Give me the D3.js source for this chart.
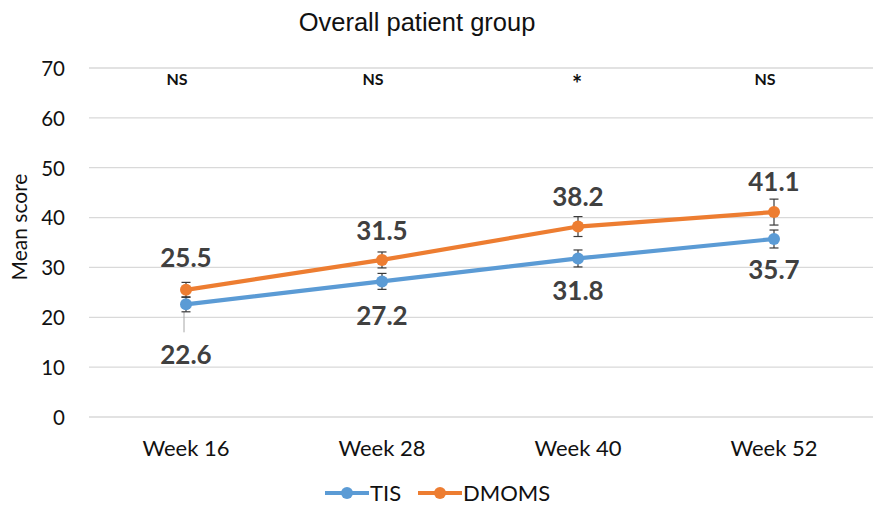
<!DOCTYPE html>
<html>
<head>
<meta charset="utf-8">
<script src="https://cdn.jsdelivr.net/npm/d3@7"></script>
<style>
  html, body { margin: 0; padding: 0; background: #fff; }
  svg { display: block; }
</style>
</head>
<body>
<svg id="chart" width="875" height="506"></svg>
<script>
// Mean score by visit, with standard-error bars and significance marks
const weeks = ["Week 16", "Week 28", "Week 40", "Week 52"];
const tisMean = [22.6, 27.2, 31.8, 35.7];
const tisErr = [1.5, 1.6, 1.7, 1.8];
const dmomsMean = [25.5, 31.5, 38.2, 41.1];
const dmomsErr = [1.5, 1.6, 2.0, 2.6];
const significance = ["NS", "NS", "*", "NS"];
const yTicks = [0, 10, 20, 30, 40, 50, 60, 70];

const svg = d3.select("#chart");
const plot = { left: 89, right: 873, top: 68, bottom: 417 };
const fontMain = "Lato, 'Open Sans', sans-serif";
const textColor = "#404040";

const x = d3.scaleBand().domain(weeks).range([plot.left, plot.right]);
const y = d3.scaleLinear().domain([0, 70]).range([plot.bottom, plot.top]);
const cx = w => x(w) + x.bandwidth() / 2 - 1;

// Title
svg.append("text")
  .attr("x", 417).attr("y", 31)
  .attr("text-anchor", "middle")
  .attr("font-family", "'Liberation Sans', Arial, sans-serif")
  .attr("font-size", 25.5)
  .attr("fill", "#111")
  .text("Overall patient group");

// Gridlines
svg.append("g")
  .selectAll("line").data(yTicks).join("line")
  .attr("x1", plot.left).attr("x2", plot.right)
  .attr("y1", d => y(d)).attr("y2", d => y(d))
  .attr("stroke", "#d9d9d9").attr("stroke-width", 1.3);

// Y axis labels
const yAxis = d3.axisLeft(y).tickValues(yTicks).tickSize(0).tickPadding(0);
const gy = svg.append("g").attr("transform", `translate(${plot.left - 24},0)`).call(yAxis);
gy.select(".domain").remove();
gy.selectAll("text")
  .attr("font-family", fontMain).attr("font-size", 20.5)
  .attr("fill", "#111").attr("dy", "0.36em");

// Y axis title
svg.append("text")
  .attr("transform", "translate(27,227) rotate(-90)")
  .attr("text-anchor", "middle")
  .attr("font-family", fontMain).attr("font-size", 21)
  .attr("fill", "#111")
  .text("Mean score");

// X axis labels
const xAxis = d3.axisBottom(x).tickSize(0).tickPadding(0);
const gx = svg.append("g").attr("transform", `translate(-1,${plot.bottom + 21})`).call(xAxis);
gx.select(".domain").remove();
gx.selectAll("text")
  .attr("font-family", fontMain).attr("font-size", 22)
  .attr("fill", "#111").attr("dy", "0.8em");

// Significance markers
svg.append("g")
  .selectAll("text").data(weeks).join("text")
  .attr("x", (d, i) => cx(d) - (significance[i] === "*" ? 1 : 9))
  .attr("y", (d, i) => significance[i] === "*" ? 93 : 85)
  .attr("text-anchor", "middle")
  .attr("font-family", fontMain).attr("font-weight", 700)
  .attr("font-size", (d, i) => significance[i] === "*" ? 24 : 16)
  .attr("fill", "#111")
  .text((d, i) => significance[i]);

const series = [
  { name: "TIS", mean: tisMean, err: tisErr, color: "#5b9bd5" },
  { name: "DMOMS", mean: dmomsMean, err: dmomsErr, color: "#ed7d31" }
];

// Data label offsets (TIS below the line, DMOMS above)
const labelDy = { TIS: [50, 34, 32, 31], DMOMS: [-32, -29, -30, -30] };

// Leader line for the displaced first TIS label
svg.append("line")
  .attr("x1", cx(weeks[0]) - 2).attr("x2", cx(weeks[0]) - 2)
  .attr("y1", y(tisMean[0] - tisErr[0])).attr("y2", y(tisMean[0]) + 28)
  .attr("stroke", "#a6a6a6").attr("stroke-width", 1);

const line = d3.line().x((d, i) => cx(weeks[i])).y(d => y(d));

series.forEach(s => {
  const g = svg.append("g");
  g.append("path")
    .attr("d", line(s.mean))
    .attr("fill", "none")
    .attr("stroke", s.color)
    .attr("stroke-width", 4.2)
    .attr("stroke-linecap", "round")
    .attr("stroke-linejoin", "round");

  // Error bars
  s.mean.forEach((m, i) => {
    const px = cx(weeks[i]);
    const top = y(m + s.err[i]), bot = y(m - s.err[i]);
    const eb = g.append("g").attr("stroke", "#3a3a3a").attr("stroke-width", 1.2);
    eb.append("line").attr("x1", px).attr("x2", px).attr("y1", top).attr("y2", bot);
    eb.append("line").attr("x1", px - 4.5).attr("x2", px + 4.5).attr("y1", top).attr("y2", top);
    eb.append("line").attr("x1", px - 4.5).attr("x2", px + 4.5).attr("y1", bot).attr("y2", bot);
  });

  g.selectAll("circle").data(s.mean).join("circle")
    .attr("cx", (d, i) => cx(weeks[i]))
    .attr("cy", d => y(d))
    .attr("r", 6)
    .attr("fill", s.color);

  g.selectAll("text.lbl").data(s.mean).join("text")
    .attr("class", "lbl")
    .attr("x", (d, i) => cx(weeks[i]))
    .attr("y", (d, i) => y(d) + labelDy[s.name][i])
    .attr("dy", "0.36em")
    .attr("text-anchor", "middle")
    .attr("font-family", fontMain).attr("font-weight", 700)
    .attr("font-size", 26)
    .attr("fill", textColor)
    .text(d => d.toFixed(1));
});

// Legend
const legend = svg.append("g").attr("transform", "translate(0,493)");
const legendItems = [
  { name: "TIS", color: "#5b9bd5", x0: 325 },
  { name: "DMOMS", color: "#ed7d31", x0: 418 }
];
legendItems.forEach(it => {
  legend.append("line")
    .attr("x1", it.x0).attr("x2", it.x0 + 44)
    .attr("y1", 0).attr("y2", 0)
    .attr("stroke", it.color).attr("stroke-width", 4.2);
  legend.append("circle")
    .attr("cx", it.x0 + 22).attr("cy", 0).attr("r", 6)
    .attr("fill", it.color);
  legend.append("text")
    .attr("x", it.x0 + 45).attr("y", 0).attr("dy", "0.36em")
    .attr("font-family", fontMain).attr("font-size", 22)
    .attr("fill", "#111")
    .text(it.name);
});
</script>
</body>
</html>
